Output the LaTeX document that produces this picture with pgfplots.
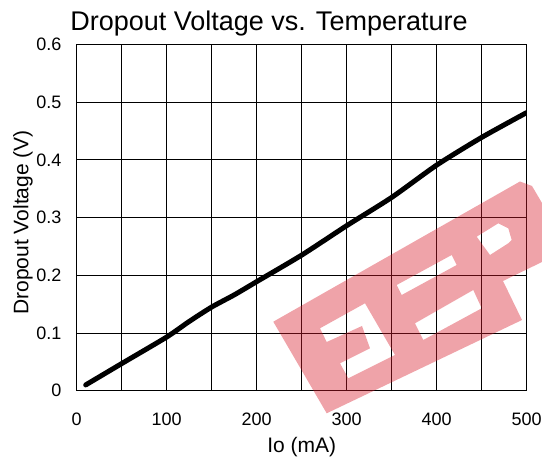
\documentclass[border=0pt]{standalone}
\usepackage{fontspec}
\setmainfont{Liberation Sans}
\usepackage{pgfplots}
\pgfplotsset{compat=1.18}
\definecolor{wmred}{RGB}{215,25,40}
\begin{document}
\begin{tikzpicture}[x=1pt,y=1pt]
\useasboundingbox (-76.7,-66.3) rectangle (465.3,390.7);
\begin{axis}[
  at={(0,0)}, anchor=south west,
  scale only axis, width=450pt, height=346.2pt,
  xmin=0, xmax=500, ymin=0, ymax=0.6,
  xtick={0,100,200,300,400,500},
  minor xtick={50,150,250,350,450},
  ytick={0,0.1,0.2,0.3,0.4,0.5,0.6},
  grid=both,
  major grid style={black, line width=0.8pt},
  minor grid style={black, line width=0.8pt},
  major tick length=0pt, minor tick length=0pt,
  axis line style={black, line width=1.2pt},
  /pgf/number format/assume math mode=true,
  tick label style={font=\fontsize{18}{20}\selectfont, inner sep=0pt},
  xticklabel style={anchor=north, yshift=-22pt},
  yticklabel style={anchor=east, xshift=-15pt, /pgf/number format/fixed, /pgf/number format/precision=1},
  xlabel={Io (mA)},
  ylabel={Dropout Voltage (V)},
  xlabel style={font=\fontsize{21}{24}\selectfont, at={(axis description cs:0.5,-0.178)}, anchor=base, inner sep=0pt},
  ylabel style={font=\fontsize{21}{24}\selectfont, at={(axis description cs:-0.1076,0.486)}, anchor=base, inner sep=0pt},
  title={Dropout Voltage vs. Temperature},
  title style={font=\fontsize{27}{30}\selectfont, at={(axis description cs:0.4273,1.0225)}, anchor=base, inner sep=0pt},
]
\addplot[black, line width=5pt, line cap=round, line join=round, smooth, tension=0.4] coordinates {
(10,0.010) (50,0.047) (100,0.093) (125,0.120) (150,0.145) (175,0.166) (200,0.189)
(250,0.235) (300,0.286) (350,0.335) (400,0.391) (450,0.439) (500,0.482)
};
\end{axis}
\begin{scope}[shift={(-76.7,390.7)}, x=1pt, y=-1pt]
\fill[wmred, fill opacity=0.4, even odd rule]
  (273.3,321.7) -- (326.7,413.3) -- (522,320) -- (503,281) -- (542,262) -- (542,203) -- (532,186) -- (520,181.5) -- cycle
  (320,328.3) -- (365,303.3) -- (395,355) -- (348.3,378.3) -- (340,363.3) -- (370,348.3) -- (362,326) -- (326.7,342) -- cycle
  (396.7,285) -- (451.7,255) -- (456.7,265) -- (401.7,295) -- cycle
  (415,323.3) -- (473.3,290) -- (481.7,308.3) -- (423.3,340) -- cycle
  (476.7,236.7) -- (498.3,223.3) -- (508.3,228.3) -- (511.7,240) -- (508.3,243.3) -- (490,255) -- cycle;
\end{scope}
\end{tikzpicture}
\end{document}
